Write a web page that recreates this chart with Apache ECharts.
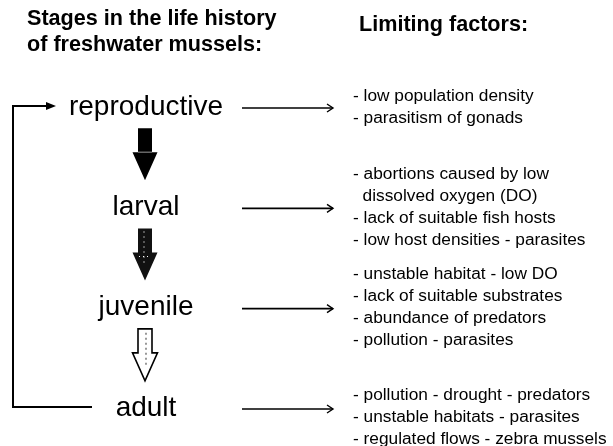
<!DOCTYPE html>
<html>
<head>
<meta charset="utf-8">
<script src="https://cdn.jsdelivr.net/npm/echarts@6/dist/echarts.min.js"></script>
<style>
  html, body { margin: 0; background: #fff; }
  #chart { width: 613px; height: 446px; }
</style>
</head>
<body>
<div id="chart"></div>
<script>
// life stages, top to bottom
const stages = ['reproductive', 'larval', 'juvenile', 'adult'];
// limiting factors for each stage
const factorsReproductive = ['- low population density', '- parasitism of gonads'];
const factorsLarval = ['- abortions caused by low', '  dissolved oxygen (DO)', '- lack of suitable fish hosts', '- low host densities - parasites'];
const factorsJuvenile = ['- unstable habitat - low DO', '- lack of suitable substrates', '- abundance of predators', '- pollution - parasites'];
const factorsAdult = ['- pollution - drought - predators', '- unstable habitats - parasites', '- regulated flows - zebra mussels'];
const factors = [factorsReproductive, factorsLarval, factorsJuvenile, factorsAdult];

const chart = echarts.init(document.getElementById('chart'));

const FONT = '"Liberation Sans", Arial, sans-serif';
const STAGE_X = 146;     // centre of stage column
const LINK_X0 = 242;     // connector start
const LINK_X1 = 333;     // connector end
const TEXT_X = 353;      // factor text left
const LOOP_X = 13;       // feedback loop

function downArrow(cx, top, kind) {
  const pts = [
    [cx - 7, top], [cx + 7, top], [cx + 7, top + 24], [cx + 12.5, top + 24],
    [cx, top + 52], [cx - 12.5, top + 24], [cx - 7, top + 24]
  ];
  const out = [];
  if (kind === 0) {
    out.push({type: 'polygon', shape: {points: pts}, style: {fill: '#000'}});
    out.push({type: 'line', shape: {x1: cx - 7, y1: top + 24, x2: cx + 7, y2: top + 24}, style: {stroke: '#999', lineWidth: 1}});
  } else if (kind === 1) {
    out.push({type: 'polygon', shape: {points: pts}, style: {fill: '#111'}});
    out.push({type: 'line', shape: {x1: cx - 1, y1: top + 3, x2: cx - 1, y2: top + 38}, style: {stroke: '#fff', lineWidth: 1.2, lineDash: [1, 4]}});
    out.push({type: 'line', shape: {x1: cx - 6, y1: top + 28, x2: cx + 6, y2: top + 28}, style: {stroke: '#fff', lineWidth: 1, lineDash: [1, 3]}});
  } else {
    out.push({type: 'polygon', shape: {points: pts}, style: {fill: '#fff', stroke: '#000', lineWidth: 1.6}});
    out.push({type: 'line', shape: {x1: cx + 1, y1: top + 4, x2: cx + 1, y2: top + 38}, style: {stroke: '#555', lineWidth: 1.2, lineDash: [2, 3]}});
  }
  return out;
}

function renderItem(params, api) {
  const i = params.dataIndex;
  const y = api.coord([0, i])[1];
  const last = stages.length - 1;
  const children = [];

  // stage name
  children.push({
    type: 'text',
    style: {text: stages[i], x: STAGE_X, y: y, align: 'center', verticalAlign: 'middle',
      font: '28px ' + FONT, fill: '#000'}
  });

  // connector arrow to the factors
  const ly = y + 1;
  children.push({type: 'line', shape: {x1: LINK_X0, y1: ly, x2: LINK_X1, y2: ly}, style: {stroke: '#000', lineWidth: 1.6}});
  children.push({type: 'polyline', shape: {points: [[LINK_X1 - 6, ly - 4], [LINK_X1, ly], [LINK_X1 - 6, ly + 4]]},
    style: {stroke: '#000', lineWidth: 1.4, fill: null}});

  // factors list
  children.push({
    type: 'text',
    style: {text: factors[i].join('\n'), x: TEXT_X, y: y + (i === last ? 9 : 0), align: 'left', verticalAlign: 'middle',
      font: '17.3px ' + FONT, lineHeight: 22, fill: '#000'}
  });

  // arrow down to the next stage
  if (i < last) {
    const ny = api.coord([0, i + 1])[1];
    const mid = (y + ny) / 2 - 3;
    children.push(...downArrow(STAGE_X - 1, mid - 26, i));
  } else {
    // loop back from adult to reproductive
    const y0 = api.coord([0, 0])[1] - 1;
    const yb = y - 1;
    children.push({type: 'polyline', shape: {points: [[92, yb], [LOOP_X, yb], [LOOP_X, y0], [48, y0]]},
      style: {stroke: '#000', lineWidth: 2, fill: null}});
    children.push({type: 'polygon', shape: {points: [[46, y0 - 4], [56, y0], [46, y0 + 4]]}, style: {fill: '#000'}});
  }

  return {type: 'group', children: children};
}

chart.setOption({
  backgroundColor: '#fff',
  animation: false,
  title: [
    {
      text: 'Stages in the life history\nof freshwater mussels:',
      left: 27, top: 6, padding: 0,
      textStyle: {fontFamily: FONT, fontSize: 21.6, fontWeight: 'bold', lineHeight: 26, color: '#000'}
    },
    {
      text: 'Limiting factors:',
      left: 359, top: 12, padding: 0,
      textStyle: {fontFamily: FONT, fontSize: 21.6, fontWeight: 'bold', lineHeight: 26, color: '#000'}
    }
  ],
  grid: {left: 0, right: 0, top: 107, bottom: 38},
  xAxis: {type: 'value', min: 0, max: 1, show: false},
  yAxis: {type: 'category', data: stages, inverse: true, boundaryGap: false, show: false},
  series: [{
    type: 'custom',
    silent: true,
    clip: false,
    renderItem: renderItem,
    encode: {x: 0, y: 1},
    data: stages.map((s, i) => [0, i])
  }]
});
</script>
</body>
</html>
